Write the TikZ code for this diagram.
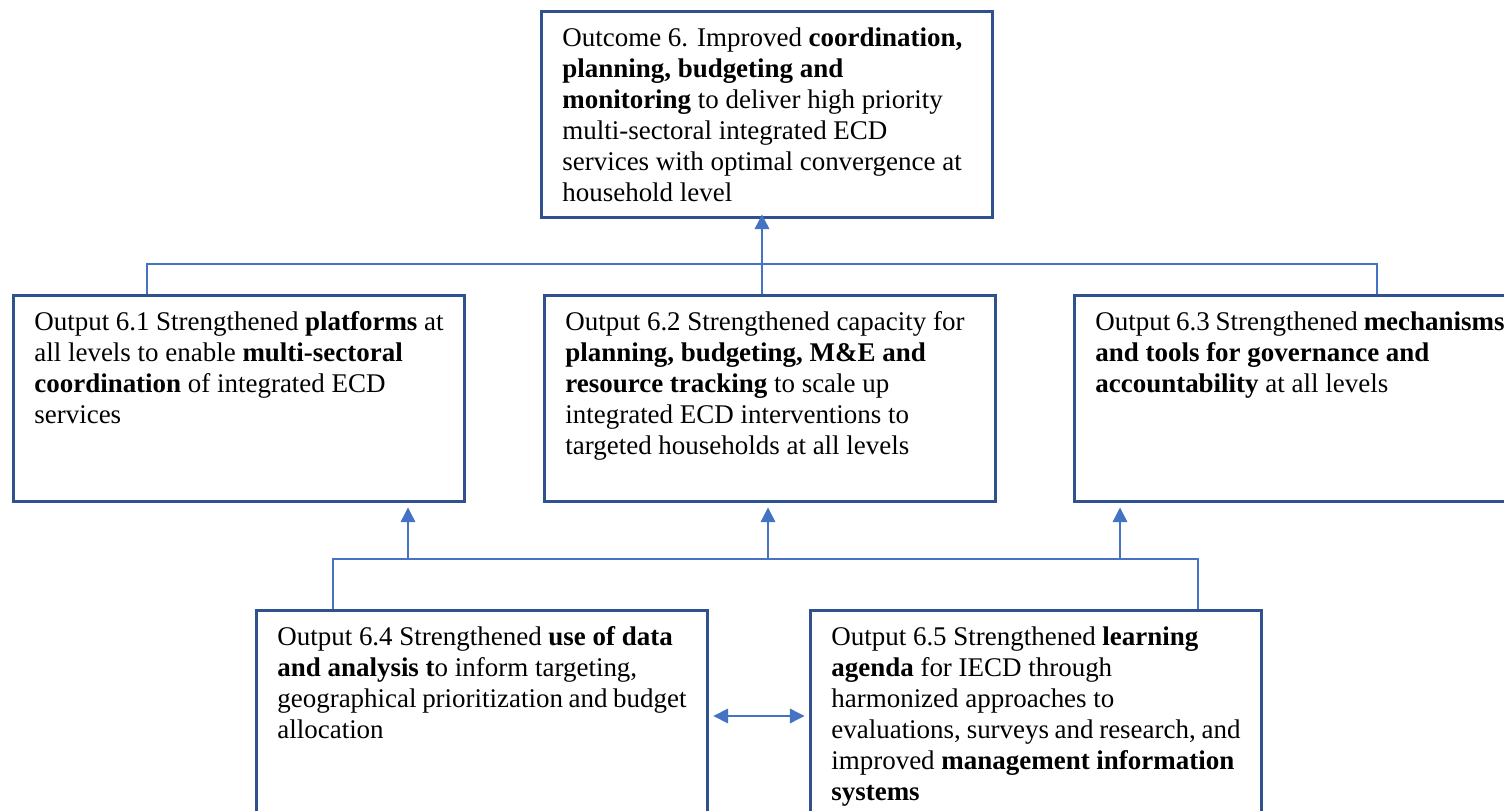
\documentclass[tikz,border=0pt]{standalone}
\usepackage{fontspec}
\setmainfont{Liberation Serif}
\usepackage{xcolor}
\usetikzlibrary{arrows.meta}

\definecolor{boxblue}{RGB}{47,82,143}
\definecolor{linkblue}{RGB}{68,114,196}

\begin{document}
\begin{tikzpicture}[x=0.445pt,y=-0.445pt,
    font=\fontsize{12}{13.8}\selectfont,
    >={Triangle[length=6.5pt,width=6.5pt]},
    box/.style={draw=boxblue,line width=1.3pt,anchor=north west,inner xsep=9.3pt,inner ysep=7.2pt},
    link/.style={draw=linkblue,line width=0.6pt}]
    \useasboundingbox (0,0) rectangle (1504,811);
    \clip (0,0) rectangle (1504,811);

    \node[box] (out) at (540,10) {\parbox[t][77.3pt][t]{182.1pt}{Outcome 6. Improved \textbf{coordination,}\\
        \textbf{planning, budgeting and}\\ \textbf{monitoring} to deliver high priority\\
        multi-sectoral integrated ECD\\ services with optimal convergence at\\ household level}};
    \node[box] (o61) at (12,294) {\parbox[t][77.3pt][t]{182.1pt}{Output 6.1 Strengthened \textbf{platforms} at\\
        all levels to enable \textbf{multi-sectoral}\\ \textbf{coordination} of integrated ECD\\ services}};
    \node[box] (o62) at (543,294) {\parbox[t][77.3pt][t]{182.1pt}{Output 6.2 Strengthened capacity for\\
        \textbf{planning, budgeting, M\&E and}\\ \textbf{resource tracking} to scale up\\
        integrated ECD interventions to\\ targeted households at all levels}};
    \node[box] (o63) at (1073,294) {\parbox[t][77.3pt][t]{182.1pt}{Output 6.3 Strengthened \textbf{mechanisms}\\
        \textbf{and tools for governance and}\\ \textbf{accountability} at all levels}};
    \node[box] (o64) at (255,609) {\parbox[t][92.4pt][t]{182.1pt}{Output 6.4 Strengthened \textbf{use of data}\\
        \textbf{and analysis t}o inform targeting,\\ geographical prioritization and budget\\ allocation}};
    \node[box] (o65) at (809,609) {\parbox[t][92.4pt][t]{182.1pt}{Output 6.5 Strengthened \textbf{learning}\\
        \textbf{agenda} for IECD through\\ harmonized approaches to\\ evaluations, surveys and research, and\\
        improved \textbf{management information}\\ \textbf{systems}}};

    % bends of the connectors
    \coordinate (t61) at (147,264);
    \coordinate (t62) at (762,264);
    \coordinate (t63) at (1377,264);
    \coordinate (b61) at (408,559);
    \coordinate (b62) at (768,559);
    \coordinate (b63) at (1120,559);
    \coordinate (b64) at (333,559);
    \coordinate (b65) at (1198,559);
    \coordinate (mid) at (0,716);

    \path[link] (o61.north -| t61) |- (t63) -- (o63.north -| t63);
    \path[link,->,shorten >=-2pt] (o62.north -| t62) -- (out.south -| t62);
    \path[link] (o64.north -| b64) |- (b65) -- (o65.north -| b65);
    \path[link,->,shorten >=2pt] (b61) -- (o61.south -| b61);
    \path[link,->,shorten >=2pt] (b62) -- (o62.south -| b62);
    \path[link,->,shorten >=2pt] (b63) -- (o63.south -| b63);
    \path[link,<->,shorten >=2pt,shorten <=2pt] (o64.east |- mid) -- (o65.west |- mid);
\end{tikzpicture}
\end{document}
